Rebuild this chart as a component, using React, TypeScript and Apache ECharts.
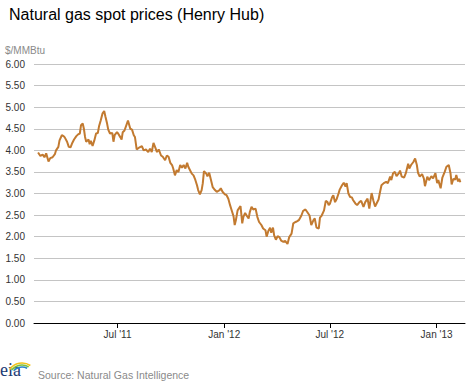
import React, { useEffect, useRef } from "react";
import * as echarts from "echarts";

const dates = [
  "2011-02-14","2011-02-18","2011-02-22","2011-02-25","2011-02-28","2011-03-04","2011-03-07","2011-03-11","2011-03-15","2011-03-17",
  "2011-03-21","2011-03-23","2011-03-27","2011-03-30","2011-04-01","2011-04-05","2011-04-08","2011-04-11","2011-04-14","2011-04-17",
  "2011-04-21","2011-04-24","2011-04-27","2011-04-29","2011-05-02","2011-05-04","2011-05-06","2011-05-08","2011-05-12","2011-05-14",
  "2011-05-16","2011-05-19","2011-05-22","2011-05-25","2011-05-28","2011-05-30","2011-06-02","2011-06-05","2011-06-08","2011-06-10",
  "2011-06-13","2011-06-15","2011-06-18","2011-06-22","2011-06-24","2011-06-26","2011-06-30","2011-07-02","2011-07-06","2011-07-08",
  "2011-07-10","2011-07-13","2011-07-19","2011-07-23","2011-07-26","2011-07-29","2011-07-31","2011-08-03","2011-08-08","2011-08-12",
  "2011-08-15","2011-08-19","2011-08-23","2011-08-26","2011-08-29","2011-09-01","2011-09-04","2011-09-07","2011-09-10","2011-09-14",
  "2011-09-17","2011-09-21","2011-09-24","2011-09-27","2011-09-30","2011-10-03","2011-10-05","2011-10-08","2011-10-11","2011-10-14",
  "2011-10-17","2011-10-20","2011-10-23","2011-10-26","2011-10-29","2011-10-31","2011-11-03","2011-11-06","2011-11-09","2011-11-12",
  "2011-11-15","2011-11-17","2011-11-20","2011-11-23","2011-11-25","2011-11-27","2011-12-01","2011-12-03","2011-12-06","2011-12-09",
  "2011-12-12","2011-12-16","2011-12-19","2011-12-24","2011-12-26","2011-12-29","2012-01-02","2012-01-05","2012-01-08","2012-01-11",
  "2012-01-14","2012-01-17","2012-01-19","2012-01-21","2012-01-24","2012-01-26","2012-01-29","2012-02-01","2012-02-03","2012-02-06",
  "2012-02-09","2012-02-12","2012-02-14","2012-02-17","2012-02-20","2012-02-24","2012-02-27","2012-03-01","2012-03-05","2012-03-08",
  "2012-03-12","2012-03-14","2012-03-17","2012-03-20","2012-03-22","2012-03-25","2012-03-27","2012-03-30","2012-04-02","2012-04-05",
  "2012-04-08","2012-04-12","2012-04-15","2012-04-19","2012-04-22","2012-04-26","2012-04-29","2012-05-03","2012-05-06","2012-05-09",
  "2012-05-13","2012-05-16","2012-05-20","2012-05-23","2012-05-27","2012-05-30","2012-06-03","2012-06-05","2012-06-08","2012-06-12",
  "2012-06-14","2012-06-17","2012-06-21","2012-06-24","2012-06-27","2012-06-29","2012-07-01","2012-07-05","2012-07-07","2012-07-10",
  "2012-07-13","2012-07-16","2012-07-18","2012-07-22","2012-07-25","2012-07-28","2012-07-30","2012-08-02","2012-08-05","2012-08-08",
  "2012-08-10","2012-08-14","2012-08-17","2012-08-21","2012-08-24","2012-08-28","2012-08-31","2012-09-04","2012-09-07","2012-09-11",
  "2012-09-14","2012-09-17","2012-09-20","2012-09-23","2012-09-25","2012-09-28","2012-10-02","2012-10-06","2012-10-09","2012-10-13",
  "2012-10-15","2012-10-18","2012-10-21","2012-10-24","2012-10-28","2012-10-30","2012-11-02","2012-11-06","2012-11-09","2012-11-13",
  "2012-11-15","2012-11-18","2012-11-22","2012-11-25","2012-11-28","2012-11-30","2012-12-03","2012-12-07","2012-12-10","2012-12-12",
  "2012-12-16","2012-12-19","2012-12-23","2012-12-26","2012-12-30","2013-01-02","2013-01-04","2013-01-08","2013-01-11","2013-01-15",
  "2013-01-18","2013-01-22","2013-01-25","2013-01-27","2013-01-30","2013-02-02","2013-02-04","2013-02-07","2013-02-09","2013-02-11",
];

const prices = [
  3.95,3.87,3.90,3.84,3.93,3.74,3.82,3.84,3.91,4.00,
  4.08,4.23,4.35,4.33,4.30,4.20,4.08,4.07,4.17,4.25,
  4.33,4.37,4.39,4.58,4.62,4.50,4.31,4.20,4.25,4.14,
  4.22,4.10,4.23,4.39,4.40,4.55,4.69,4.85,4.91,4.79,
  4.62,4.48,4.39,4.40,4.20,4.35,4.42,4.39,4.30,4.25,
  4.42,4.46,4.69,4.50,4.48,4.35,4.31,4.02,4.07,4.10,
  4.00,4.02,3.96,4.04,3.96,4.17,4.07,3.96,4.02,3.88,
  3.85,3.77,3.88,3.85,3.71,3.66,3.58,3.42,3.54,3.50,
  3.66,3.60,3.66,3.58,3.71,3.62,3.54,3.46,3.42,3.32,
  3.19,3.08,2.98,3.08,3.24,3.52,3.46,3.40,3.48,3.32,
  3.15,3.08,3.04,3.08,3.12,3.04,2.98,2.96,2.88,2.73,
  2.60,2.47,2.27,2.38,2.61,2.65,2.71,2.31,2.46,2.55,
  2.48,2.42,2.57,2.69,2.63,2.65,2.46,2.34,2.27,2.19,
  2.15,2.00,2.13,2.21,2.09,2.21,2.03,1.93,2.01,1.99,
  1.91,1.88,1.90,1.83,1.99,2.07,2.31,2.34,2.36,2.39,
  2.49,2.60,2.63,2.57,2.49,2.27,2.39,2.42,2.21,2.19,
  2.44,2.49,2.61,2.83,2.80,2.73,2.76,2.92,2.96,2.80,
  2.88,3.00,3.09,3.19,3.25,3.16,3.24,3.00,2.92,2.91,
  2.85,2.77,2.73,2.80,2.83,2.69,2.80,2.88,2.65,3.01,
  2.84,2.70,2.78,2.86,3.00,3.19,3.24,3.27,3.24,3.39,
  3.31,3.47,3.50,3.40,3.47,3.53,3.39,3.37,3.47,3.69,
  3.58,3.66,3.73,3.81,3.66,3.48,3.39,3.45,3.35,3.17,
  3.39,3.31,3.40,3.35,3.47,3.24,3.31,3.12,3.37,3.50,
  3.62,3.66,3.47,3.21,3.34,3.32,3.43,3.28,3.34,3.26,
];

const tickDates = ["2011-07-01", "2012-01-01", "2012-07-01", "2013-01-01"];
const tickLabels = ["Jul '11", "Jan '12", "Jul '12", "Jan '13"];

const axisStart = "2011-02-07";
const axisEnd = "2013-02-19";

const TITLE = "Natural gas spot prices (Henry Hub)";
const UNIT = "$/MMBtu";
const SOURCE = "Source: Natural Gas Intelligence";

const DAY = 86400000;
const toDays = (s: string) => {
  const [y, m, d] = s.split("-").map(Number);
  return Date.UTC(y, m - 1, d) / DAY; // days since epoch
};

const FONT = "'Liberation Sans', Arial, Helvetica, sans-serif";

export default function App() {
  const ref = useRef<HTMLDivElement>(null);

  useEffect(() => {
    if (!ref.current) return;
    const chart = echarts.init(ref.current, null, { renderer: "svg" });
    const tickPos = tickDates.map(toDays);
    const seriesData = dates.map((d, i) => [toDays(d), prices[i]]);

    chart.setOption({
      animation: false,
      backgroundColor: "#ffffff",
      textStyle: { fontFamily: FONT },
      title: {
        text: TITLE,
        left: 4,
        top: 1,
        textStyle: { fontSize: 16, fontWeight: "normal", color: "#000000", fontFamily: FONT },
      },
      grid: { left: 34, right: 5, top: 64, bottom: 60, containLabel: false },
      xAxis: {
        type: "value",
        min: toDays(axisStart),
        max: toDays(axisEnd),
        axisLine: { show: true, onZero: false, lineStyle: { color: "#000000", width: 1 } },
        axisTick: {
          show: true,
          customValues: tickPos,
          length: 5,
          lineStyle: { color: "#000000" },
        },
        axisLabel: {
          customValues: tickPos,
          fontSize: 10,
          color: "#333333",
          margin: 6,
          fontFamily: FONT,
          formatter: (v: number) => {
            const i = tickPos.indexOf(v);
            return i >= 0 ? tickLabels[i] : "";
          },
        },
        splitLine: { show: false },
      },
      yAxis: {
        type: "value",
        min: 0,
        max: 6,
        interval: 0.5,
        axisLine: { show: false },
        axisTick: { show: false },
        axisLabel: {
          fontSize: 10,
          color: "#333333",
          margin: 9,
          fontFamily: FONT,
          formatter: (v: number) => v.toFixed(2),
        },
        splitLine: { show: true, lineStyle: { color: "#c4c4c4", width: 1 } },
      },
      graphic: [
        {
          type: "text",
          left: 5,
          top: 45,
          style: { text: UNIT, fontSize: 10, fill: "#8a8a8a", fontFamily: FONT },
        },
        {
          type: "text",
          left: 38,
          top: 369,
          style: { text: SOURCE, fontSize: 10.5, fill: "#8a8a8a", fontFamily: FONT },
        },
        {
          type: "text",
          x: 0,
          y: 361,
          style: {
            text: "eia",
            fontSize: 18,
            fill: "#1b3a73",
            fontFamily: "'Liberation Serif', 'DejaVu Serif', serif",
          },
        },
        {
          type: "arc",
          shape: { cx: 22, cy: 378, r: 15, startAngle: 3.75, endAngle: 5.3 },
          style: { stroke: "#f2c21a", lineWidth: 1.6, fill: "none" },
        },
        {
          type: "arc",
          shape: { cx: 22, cy: 378, r: 13, startAngle: 3.8, endAngle: 5.25 },
          style: { stroke: "#7cbf3c", lineWidth: 1.6, fill: "none" },
        },
        {
          type: "arc",
          shape: { cx: 22, cy: 378, r: 11, startAngle: 3.85, endAngle: 5.2 },
          style: { stroke: "#2b86c5", lineWidth: 1.6, fill: "none" },
        },
      ],
      series: [
        {
          type: "line",
          data: seriesData,
          showSymbol: false,
          symbol: "none",
          smooth: false,
          lineStyle: { color: "#c27a30", width: 2 },
          itemStyle: { color: "#c27a30" },
        },
      ],
    });

    return () => chart.dispose();
  }, []);

  return (
    <div
      ref={ref}
      style={{ position: "absolute", left: 0, top: 0, width: 470, height: 383 }}
    />
  );
}
